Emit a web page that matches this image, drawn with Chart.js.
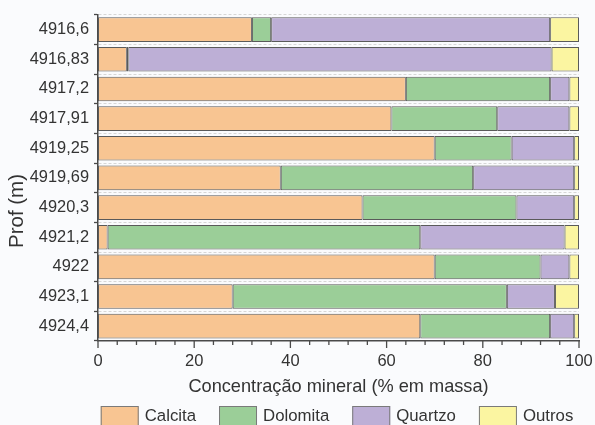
<!DOCTYPE html>
<html>
<head>
<meta charset="utf-8">
<script src="https://cdn.jsdelivr.net/npm/chart.js@4.4.1/dist/chart.umd.min.js"></script>
<style>
  html, body { margin: 0; padding: 0; background: #fafbfd; }
  #wrap { width: 595px; height: 425px; position: relative; }
</style>
</head>
<body>
<div id="wrap"><canvas id="chart"></canvas></div>
<script>
// profundidades (eixo y)
const depths = ['4916,6', '4916,83', '4917,2', '4917,91', '4919,25', '4919,69',
                '4920,3', '4921,2', '4922', '4923,1', '4924,4'];

// concentração mineral (% em massa)
const calcita  = [32, 6,   64, 61, 70, 38, 55, 2,  70, 28, 67];
const dolomita = [4,  0.3, 30, 22, 16, 40, 32, 65, 22, 57, 27];
const quartzo  = [58, 88,  4,  15, 13, 21, 12, 30, 6,  10, 5];
const outros   = [6,  5.7, 2,  2,  1,  1,  1,  3,  2,  5,  1];

const xTicks = [0, 20, 40, 60, 80, 100];

const FONT = '"Liberation Sans", Arial, Helvetica, sans-serif';
const TEXT = '#333333';
const AXIS = '#4a4a4a';

Chart.defaults.font.family = FONT;
Chart.defaults.font.size = 16.5;
Chart.defaults.color = TEXT;

// background
const bgPlugin = {
    id: 'bg',
    beforeDraw(chart) {
        const ctx = chart.ctx;
        ctx.save();
        ctx.fillStyle = '#fafbfd';
        ctx.fillRect(0, 0, chart.width, chart.height);
        ctx.restore();
    }
};

// x tick marks (major every 20, minor every 4)
const xTickPlugin = {
    id: 'xTickMarks',
    afterDraw(chart) {
        const ctx = chart.ctx;
        const sx = chart.scales.x;
        const y0 = chart.chartArea.bottom;
        ctx.save();
        ctx.strokeStyle = AXIS;
        ctx.lineWidth = 1.3;
        for (let v = 0; v <= 100; v += 4) {
            const px = sx.getPixelForValue(v);
            const len = (v % 20 === 0) ? 7 : 4;
            ctx.beginPath();
            ctx.moveTo(px, y0);
            ctx.lineTo(px, y0 + len);
            ctx.stroke();
        }
        ctx.restore();
    }
};

// y title + legend
const extrasPlugin = {
    id: 'extras',
    afterDraw(chart) {
        const ctx = chart.ctx;
        const area = chart.chartArea;
        ctx.save();
        ctx.fillStyle = TEXT;
        ctx.textBaseline = 'middle';

        // Prof (m)
        ctx.save();
        ctx.font = '20.5px ' + FONT;
        ctx.translate(17, 211);
        ctx.rotate(-Math.PI / 2);
        ctx.textAlign = 'center';
        ctx.fillText('Prof (m)', 0, 0);
        ctx.restore();

        // legend
        ctx.font = '16.8px ' + FONT;
        const boxW = 38, boxH = 20, gapText = 6, gapItem = 23;
        const sets = chart.data.datasets;
        let total = 0;
        sets.forEach(ds => { total += boxW + gapText + ctx.measureText(ds.label).width; });
        total += gapItem * (sets.length - 1);
        let x = (area.left + area.right) / 2 - 1.5 - total / 2;
        const yTop = 406;
        ctx.textAlign = 'left';
        sets.forEach(ds => {
            ctx.fillStyle = ds.backgroundColor;
            ctx.fillRect(x, yTop, boxW, boxH);
            ctx.strokeStyle = '#7a7a7a';
            ctx.lineWidth = 1;
            ctx.strokeRect(x + 0.5, yTop + 0.5, boxW - 1, boxH - 1);
            ctx.fillStyle = TEXT;
            ctx.fillText(ds.label, x + boxW + gapText, yTop + 10);
            x += boxW + gapText + ctx.measureText(ds.label).width + gapItem;
        });
        ctx.restore();
    }
};

function makeSet(label, data, color) {
    return {
        label: label,
        data: data,
        backgroundColor: color,
        borderColor: '#5a5a5a',
        borderWidth: 1,
        borderSkipped: false,
        barPercentage: 0.83,
        categoryPercentage: 1.0
    };
}

const chart = new Chart(document.getElementById('chart'), {
    type: 'bar',
    data: {
        labels: depths,
        datasets: [
            makeSet('Calcita', calcita, '#f8c592'),
            makeSet('Dolomita', dolomita, '#9bce98'),
            makeSet('Quartzo', quartzo, '#bdafd6'),
            makeSet('Outros', outros, '#fbf5a1')
        ]
    },
    options: {
        indexAxis: 'y',
        responsive: true,
        maintainAspectRatio: false,
        animation: false,
        layout: { padding: { top: 14, right: 16, bottom: 27, left: 0 } },
        plugins: {
            legend: { display: false },
            tooltip: { enabled: false }
        },
        scales: {
            x: {
                stacked: true,
                min: 0,
                max: 100,
                afterBuildTicks(scale) {
                    scale.ticks = xTicks.map(v => ({ value: v }));
                },
                afterFit(scale) {
                    scale.height = 57;
                    scale.paddingLeft = 0;
                    scale.paddingRight = 0;
                },
                grid: { display: false, drawTicks: true, tickLength: 7 },
                border: { display: true, color: AXIS, width: 1.5 },
                ticks: { padding: 4, color: TEXT, font: { size: 16.5 } },
                title: {
                    display: true,
                    text: 'Concentração mineral (% em massa)',
                    color: TEXT,
                    font: { size: 18.2 },
                    padding: { top: 0, bottom: 0 }
                }
            },
            y: {
                stacked: true,
                afterFit(scale) { scale.width = 98; },
                grid: {
                    display: true,
                    offset: true,
                    color: '#d6d6d6',
                    lineWidth: 1,
                    drawTicks: true,
                    tickLength: 4,
                    tickColor: AXIS,
                    tickWidth: 1.3
                },
                border: { display: true, color: AXIS, width: 1.5, dash: [3, 2] },
                ticks: { padding: 5, color: TEXT, font: { size: 16.4 } }
            }
        }
    },
    plugins: [bgPlugin, xTickPlugin, extrasPlugin]
});
</script>
</body>
</html>
